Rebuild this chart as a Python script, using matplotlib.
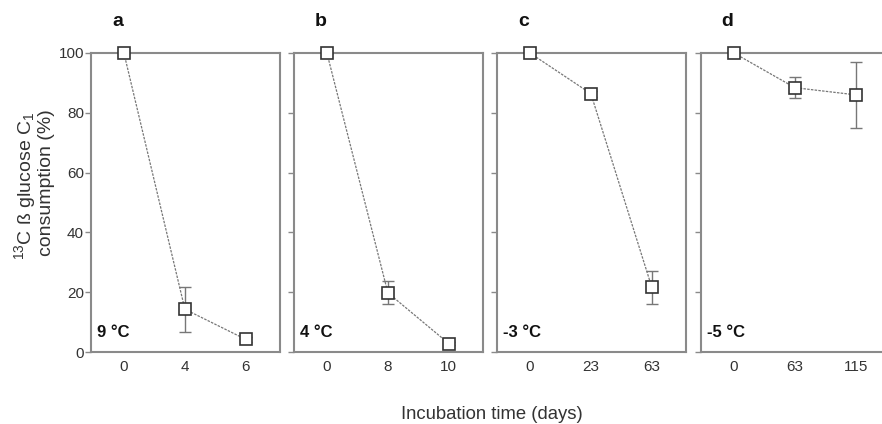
import numpy as np
import matplotlib
matplotlib.use('Agg')
import matplotlib.pyplot as plt

plt.rcParams['font.family'] = ['Liberation Sans', 'DejaVu Sans']
plt.rcParams['mathtext.fontset'] = 'custom'
plt.rcParams['mathtext.rm'] = 'Liberation Sans'
plt.rcParams['mathtext.it'] = 'Liberation Sans:italic'
plt.rcParams['mathtext.bf'] = 'Liberation Sans:bold'

# panel data (categorical x axes)
panel_letters = ['a', 'b', 'c', 'd']
temps = ['9 °C', '4 °C', '-3 °C', '-5 °C']
days_a = ['0', '4', '6']
days_b = ['0', '8', '10']
days_c = ['0', '23', '63']
days_d = ['0', '63', '115']
cons_a = [100, 14.3, 4.2]
cons_b = [100, 19.8, 2.8]
cons_c = [100, 86.4, 21.6]
cons_d = [100, 88.4, 86.0]
err_a = [0, 7.5, 0.8]
err_b = [0, 3.9, 0.5]
err_c = [0, 1.0, 5.5]
err_d = [0, 3.6, 11.0]

days = [days_a, days_b, days_c, days_d]
cons = [cons_a, cons_b, cons_c, cons_d]
errs = [err_a, err_b, err_c, err_d]

W, H = 882, 424
fig = plt.figure(figsize=(W / 100, H / 100), dpi=100)

lefts = [91, 294, 497, 701]
aw, top, bot = 189, 53, 352
spine_col = '#8a8a8a'

for i in range(4):
    ax = fig.add_axes([lefts[i] / W, (H - bot) / H, aw / W, (bot - top) / H])
    x = np.arange(len(days[i]))
    ax.plot(x, cons[i], color='#777777', lw=0.9, ls=(0, (2, 1)), zorder=2)
    ax.errorbar(x, cons[i], yerr=errs[i], fmt='none', ecolor='#777777',
                elinewidth=1.0, capsize=4, capthick=1.0, zorder=2)
    ax.plot(x, cons[i], ls='none', marker='s', ms=8, mfc='white',
            mec='#333333', mew=1.2, zorder=3, clip_on=False)
    ax.set_xlim(-0.54, 2.56)
    ax.set_ylim(0, 100)
    ax.set_xticks(x)
    ax.set_xticklabels(days[i], fontsize=11, color='#333333')
    ax.set_yticks([0, 20, 40, 60, 80, 100])
    ax.tick_params(axis='x', length=0, pad=6)
    ax.tick_params(axis='y', length=4, width=1, color=spine_col,
                   labelsize=11, labelcolor='#333333', pad=1)
    if i > 0:
        ax.set_yticklabels([])
    for s in ax.spines.values():
        s.set_color(spine_col)
        s.set_linewidth(1.5)
    ax.text(0.03, 0.065, temps[i], transform=ax.transAxes, fontsize=12,
            fontweight='bold', va='center', ha='left', color='#111111')
    ax.text(0.14, 1.104, panel_letters[i], transform=ax.transAxes, fontsize=14,
            fontweight='bold', va='center', ha='center', color='#111111')

# two-line y label, placed by baseline
fig.text(31 / W, 1 - 186 / H, '$^{13}$C ß glucose C$_1$', rotation=90,
         rotation_mode='anchor', fontsize=14, va='baseline', ha='center',
         color='#333333')
fig.text(51 / W, 1 - 183 / H, 'consumption (%)', rotation=90,
         rotation_mode='anchor', fontsize=14, va='baseline', ha='center',
         color='#333333')
fig.text(492 / W, 1 - 419 / H, 'Incubation time (days)', fontsize=13.3,
         va='baseline', ha='center', color='#333333')

fig.savefig('out.png', dpi=100)
